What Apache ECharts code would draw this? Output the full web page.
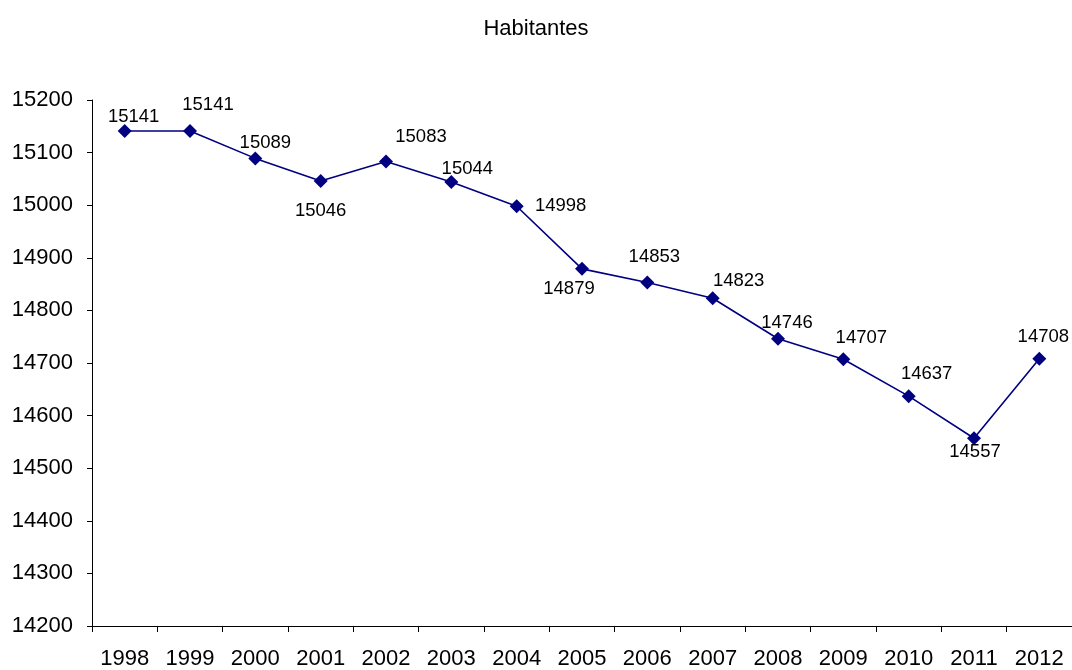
<!DOCTYPE html>
<html>
<head>
<meta charset="utf-8">
<script src="https://cdn.jsdelivr.net/npm/echarts@6/dist/echarts.min.js"></script>
<style>
  html, body { margin: 0; padding: 0; background: #fff; }
  #chart { width: 1072px; height: 670px; }
</style>
</head>
<body>
<div id="chart"></div>
<script>
// Population by year
const years = ['1998','1999','2000','2001','2002','2003','2004','2005','2006','2007','2008','2009','2010','2011','2012'];
const habitantes = [15141, 15141, 15089, 15046, 15083, 15044, 14998, 14879, 14853, 14823, 14746, 14707, 14637, 14557, 14708];

// Where each value label sits relative to its marker (pixels)
const labelOffsets = [
  [9, -14], [18, -26], [10, -15], [0, 30], [35, -25], [16, -13], [44, 0], [-13, 20],
  [7, -26], [26, -17], [9, -16], [18, -21], [18, -22], [1, 14], [4, -22]
];

const font = '"Liberation Sans", Arial, sans-serif';

const chart = echarts.init(document.getElementById('chart'));
chart.setOption({
  animation: false,
  backgroundColor: '#ffffff',
  title: {
    text: 'Habitantes',
    left: 'center',
    top: 13,
    textStyle: { fontFamily: font, fontSize: 22, fontWeight: 'normal', color: '#000' }
  },
  grid: { left: 92, right: 0, top: 100, bottom: 44 },
  xAxis: {
    type: 'category',
    data: years,
    boundaryGap: true,
    axisLine: { lineStyle: { color: '#000', width: 1 } },
    axisTick: { show: true, length: 6, lineStyle: { color: '#000' } },
    axisLabel: { color: '#000', fontFamily: font, fontSize: 22, margin: 22, interval: 0 },
    splitLine: { show: false }
  },
  yAxis: {
    type: 'value',
    min: 14200,
    max: 15200,
    interval: 100,
    axisLine: { show: true, lineStyle: { color: '#000', width: 1 } },
    axisTick: { show: true, length: 5, lineStyle: { color: '#000' } },
    axisLabel: {
      color: '#000', fontFamily: font, fontSize: 22, margin: 19,
      formatter: v => String(v)
    },
    splitLine: { show: false }
  },
  series: [{
    type: 'line',
    data: habitantes.map((v, i) => ({
      value: v,
      label: { offset: labelOffsets[i] }
    })),
    symbol: 'diamond',
    symbolSize: 14,
    itemStyle: { color: '#000080' },
    lineStyle: { color: '#000080', width: 1.6 },
    label: {
      show: true,
      position: 'inside',
      color: '#000',
      fontFamily: font,
      fontSize: 18.5
    }
  }]
});
</script>
</body>
</html>
